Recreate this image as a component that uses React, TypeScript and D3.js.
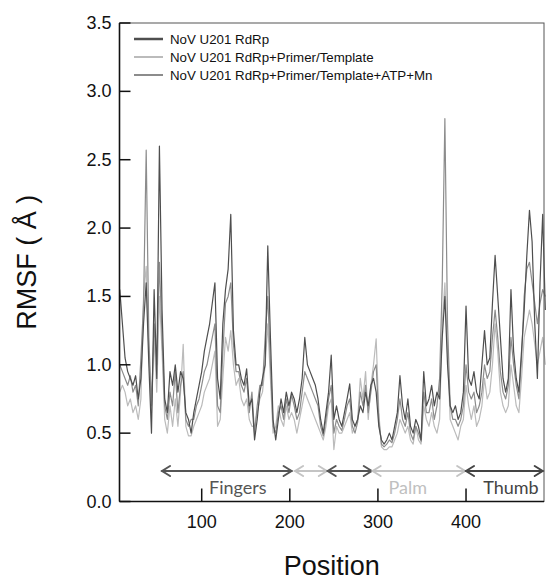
import React from "react";
import * as d3 from "d3";

const positions: number[] = d3.range(7, 491, 3);

const rmsfApo: number[] = [
  1.55, 1.3, 1.05, 0.95, 0.9, 0.85, 0.92, 0.75, 0.9, 1.3,
  1.6, 1.0, 0.5, 1.55, 0.9, 2.6, 1.4, 0.75, 0.65, 0.95,
  0.85, 1.0, 0.8, 0.95, 0.9, 0.65, 0.6, 0.5, 0.65, 0.75,
  0.85, 0.95, 1.1, 1.2, 1.3, 1.45, 1.6, 0.9, 0.75, 1.3,
  1.55, 1.7, 2.1, 1.25, 1.0, 1.0, 0.9, 0.85, 0.97, 0.7,
  0.75, 0.45, 0.6, 0.8, 0.9, 1.0, 1.87, 1.2, 0.6, 0.45,
  0.6, 0.75, 0.65, 0.8, 0.7, 0.8, 0.75, 0.65, 0.75, 0.9,
  1.2, 1.0, 0.95, 0.9, 0.85, 0.75, 0.6, 0.5, 0.65, 0.8,
  1.07, 0.6, 0.7, 0.6, 0.55, 0.65, 0.75, 0.86, 0.6, 0.55,
  0.6, 0.7, 0.65, 0.8, 0.7, 0.85, 0.9, 0.8, 0.55, 0.45,
  0.42, 0.45, 0.5, 0.45, 0.55, 0.65, 0.92, 0.7, 0.6, 0.75,
  0.55, 0.5, 0.6, 0.55, 0.45, 0.95, 0.7, 0.75, 0.85, 0.7,
  0.8, 0.75, 1.2, 1.5, 1.0, 0.7, 0.65, 0.7, 0.6, 0.65,
  0.8, 1.43, 0.9, 0.85, 0.95, 0.8, 0.75, 1.0, 1.25, 1.0,
  1.05, 1.45, 1.8, 1.5, 1.2, 0.9, 0.8, 0.9, 1.55, 1.1,
  0.9, 0.8, 1.1, 1.4, 1.8, 2.13, 1.9, 1.3, 0.9, 1.6,
  2.1, 1.4,
];

const rmsfPrimerTemplate: number[] = [
  0.8, 0.85, 0.8, 0.7, 0.75, 0.65, 0.7, 0.6, 0.75, 1.5,
  1.72, 1.1, 0.65, 1.2, 0.8, 1.5, 1.1, 0.6, 0.5, 0.7,
  0.55, 0.75, 0.55, 0.8, 1.15, 0.55, 0.48, 0.48, 0.55, 0.6,
  0.65, 0.7, 0.8, 0.85, 0.9, 1.0, 1.1, 0.55, 0.6, 0.9,
  1.2, 1.1, 1.25, 1.0, 0.85, 0.9, 0.75, 0.7, 0.75, 0.6,
  0.55, 0.55, 0.65, 0.75, 0.8, 1.0, 1.3, 0.9, 0.5, 0.55,
  0.7, 0.6, 0.55, 0.7, 0.6, 0.65, 0.6, 0.5, 0.6, 0.7,
  0.8, 0.75, 0.7, 0.65, 0.6, 0.55, 0.5, 0.45, 0.55, 0.7,
  0.75, 0.38, 0.55, 0.5, 0.5, 0.55, 0.6, 0.65, 0.5, 0.55,
  0.6, 0.9, 0.75, 0.95, 0.6, 0.85, 1.0, 1.19, 0.65, 0.4,
  0.38, 0.38, 0.4, 0.4, 0.45, 0.5, 0.6, 0.55, 0.5, 0.55,
  0.45, 0.42, 0.55, 0.45, 0.42, 0.7, 0.6, 0.55, 0.65, 0.55,
  0.5, 0.6, 1.3, 1.6, 1.1, 0.6, 0.55, 0.5, 0.45, 0.55,
  0.6, 0.85, 0.7, 0.6, 0.7, 0.55, 0.6, 0.7, 0.9, 0.75,
  0.8, 1.0, 1.3, 1.1, 0.8, 0.7, 0.65, 0.7, 1.0, 0.85,
  0.7, 0.65, 0.9, 1.2, 1.3, 1.4, 1.3, 1.15, 1.0, 1.1,
  1.2, 1.0,
];

const rmsfPrimerTemplateAtpMn: number[] = [
  1.0, 0.95, 0.9, 0.85, 0.92, 0.8, 0.85, 0.7, 1.05, 1.45,
  2.57, 1.2, 0.7, 1.3, 1.0, 1.75, 1.2, 0.7, 0.6, 0.8,
  0.7, 0.95, 0.65, 0.85, 0.95, 0.6, 0.55, 0.6, 0.6, 0.7,
  0.75, 0.85, 0.95, 1.0, 1.1, 1.2, 1.3, 0.7, 0.65, 1.1,
  1.45, 1.5, 1.6, 1.15, 0.95, 0.95, 0.85, 0.8, 0.9, 0.65,
  0.8, 0.5, 0.7, 0.85, 0.85, 1.2, 1.5, 1.0, 0.55, 0.5,
  0.65, 0.7, 0.6, 0.75, 0.65, 0.78, 0.7, 0.6, 0.65, 0.8,
  0.95, 0.9, 0.85, 0.8, 0.75, 0.7, 0.55, 0.48, 0.6, 0.75,
  0.85, 0.5, 0.6, 0.55, 0.52, 0.6, 0.7, 0.75, 0.55, 0.5,
  0.58, 0.8, 0.7, 0.85, 0.65, 0.8, 0.95, 1.0, 0.6, 0.42,
  0.4, 0.42, 0.45, 0.43, 0.5, 0.6, 0.75, 0.6, 0.55, 0.65,
  0.5, 0.45, 0.55, 0.5, 0.44, 0.8, 0.65, 0.65, 0.75, 0.6,
  0.7, 0.9, 1.6, 2.8, 1.3, 0.7, 0.6, 0.6, 0.55, 0.6,
  0.7, 1.0, 0.8, 0.75, 0.8, 0.65, 0.7, 0.8, 1.0, 0.9,
  0.95, 1.2, 1.4, 1.2, 0.95, 0.8, 0.75, 0.85, 1.2, 1.0,
  0.85, 0.75, 1.05, 1.5, 1.7, 1.75, 1.6, 1.45, 1.3, 1.45,
  1.55, 1.5,
];

const seriesNames: string[] = [
  "NoV U201 RdRp",
  "NoV U201 RdRp+Primer/Template",
  "NoV U201 RdRp+Primer/Template+ATP+Mn",
];
const seriesColors: string[] = ["#4e4e4e", "#bbbbbb", "#8c8c8c"];

const yTicks: number[] = [0, 0.5, 1, 1.5, 2, 2.5, 3, 3.5];
const xTicks: number[] = [100, 200, 300, 400];

const domainStarts: number[] = [55, 206, 243, 294, 400];
const domainEnds: number[] = [202, 242, 293, 399, 487];
const domainShades: string[] = ["#555555", "#c4c4c4", "#555555", "#c4c4c4", "#444444"];
const domainLabels: string[] = ["Fingers", "Palm", "Thumb"];
const domainLabelPos: number[] = [141, 334, 451];
const domainLabelShades: string[] = ["#555555", "#c0c0c0", "#444444"];

export default function App() {
  const W = 549;
  const H = 580;
  const left = 119.5;
  const right = 544;
  const top = 23;
  const bottom = 501.5;

  const x = d3.scaleLinear().domain([6.7, 488.5]).range([left, right]);
  const y = d3.scaleLinear().domain([0, 3.5]).range([bottom, top]);

  const line = d3
    .line<number>()
    .x((_, i) => x(positions[i]))
    .y((d) => y(d))
    .curve(d3.curveLinear);

  const series = [rmsfApo, rmsfPrimerTemplate, rmsfPrimerTemplateAtpMn];
  const drawOrder = [1, 2, 0];
  const arrowY = 471;
  const head = 8;

  return (
    <svg
      width={W}
      height={H}
      style={{ position: "absolute", left: 0, top: 0, background: "#fff" }}
      fontFamily="'Liberation Sans', Arial, sans-serif"
    >
      {drawOrder.map((si) => (
        <path
          key={si}
          d={line(series[si]) || ""}
          fill="none"
          stroke={seriesColors[si]}
          strokeWidth={1.2}
          strokeLinejoin="round"
        />
      ))}

      {/* frame */}
      <rect x={left} y={top} width={right - left} height={bottom - top} fill="none" stroke="#555" strokeWidth={1} />
      <line x1={left} x2={left} y1={top} y2={bottom} stroke="#111" strokeWidth={1.6} />
      <line x1={left} x2={right} y1={bottom} y2={bottom} stroke="#111" strokeWidth={1.6} />

      {/* y ticks */}
      {yTicks.map((t) => (
        <g key={t}>
          <line x1={left} x2={left + 11} y1={y(t)} y2={y(t)} stroke="#111" strokeWidth={1.5} />
          <text x={left - 8} y={y(t) + 6} textAnchor="end" fontSize={18} fill="#111">
            {t.toFixed(1)}
          </text>
        </g>
      ))}

      {/* x ticks */}
      {xTicks.map((t) => (
        <g key={t}>
          <line x1={x(t)} x2={x(t)} y1={bottom} y2={bottom - 13} stroke="#111" strokeWidth={1.5} />
          <text x={x(t)} y={528} textAnchor="middle" fontSize={18} fill="#111">
            {t}
          </text>
        </g>
      ))}

      {/* axis titles */}
      <text x={(left + right) / 2} y={575} textAnchor="middle" fontSize={27} fill="#111">
        Position
      </text>
      <text
        transform={`translate(36, ${(top + bottom) / 2}) rotate(-90)`}
        textAnchor="middle"
        fontSize={27}
        fill="#111"
      >
        RMSF ( Å )
      </text>

      {/* legend */}
      {seriesNames.map((n, i) => (
        <g key={n}>
          <line
            x1={134}
            x2={163}
            y1={39 + i * 18}
            y2={39 + i * 18}
            stroke={seriesColors[i]}
            strokeWidth={i === 0 ? 2.5 : 2}
          />
          <text x={170} y={44 + i * 18} fontSize={13.3} fill="#111">
            {n}
          </text>
        </g>
      ))}

      {/* domain arrows */}
      {domainStarts.map((s, i) => {
        const x1 = x(s);
        const x2 = x(domainEnds[i]);
        const c = domainShades[i];
        return (
          <g key={i} stroke={c} strokeWidth={2} fill="none" strokeLinecap="round">
            <line x1={x1} x2={x2} y1={arrowY} y2={arrowY} />
            <polyline points={`${x1 + head},${arrowY - 5} ${x1},${arrowY} ${x1 + head},${arrowY + 5}`} />
            <polyline points={`${x2 - head},${arrowY - 5} ${x2},${arrowY} ${x2 - head},${arrowY + 5}`} />
          </g>
        );
      })}
      {domainLabels.map((l, i) => (
        <text
          key={l}
          x={x(domainLabelPos[i])}
          y={494}
          textAnchor="middle"
          fontSize={18}
          fontFamily="Lato, 'Open Sans', sans-serif"
          fill={domainLabelShades[i]}
        >
          {l}
        </text>
      ))}
    </svg>
  );
}
